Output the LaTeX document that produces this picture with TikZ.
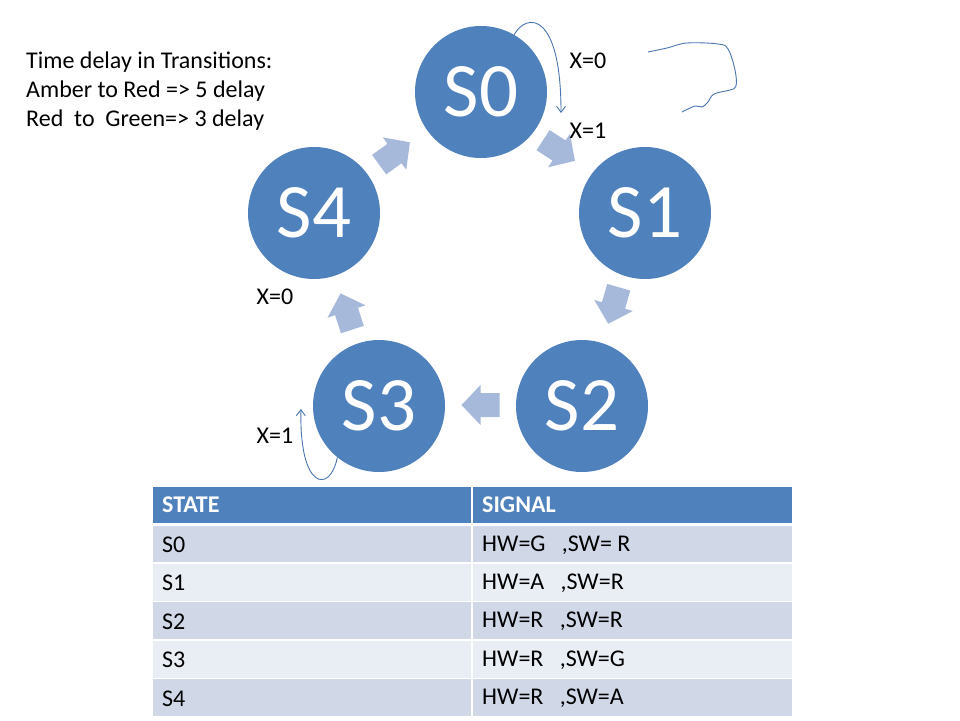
\documentclass[tikz,border=0pt]{standalone}
\usepackage{fontspec}
\setmainfont{Carlito}
\usetikzlibrary{arrows.meta,calc}
\definecolor{nodeblue}{HTML}{4F81BD}
\definecolor{arrowblue}{HTML}{A7B9DA}
\definecolor{rowdark}{HTML}{D0D8E8}
\definecolor{rowlight}{HTML}{E9EDF4}
\definecolor{penblue}{HTML}{4A76B0}
\newcommand\cyclearrow[2]{%
  \fill[blockarrow,shift={(#1)},rotate=#2]
    (-19,-12) -- (0,-12) -- (0,-20) -- (19,0) -- (0,20) -- (0,12) -- (-19,12) -- cycle;}
\begin{document}
\begin{tikzpicture}[x=1pt,y=-1pt,
  state/.style={circle,fill=nodeblue,minimum size=132pt,inner sep=0pt,text=white,
    font=\fontsize{77}{92}\selectfont},
  lbl/.style={font=\fontsize{24}{29}\selectfont,inner sep=0pt},
  cell/.style={font=\fontsize{24}{29}\selectfont,anchor=west,inner sep=0pt},
  hcell/.style={anchor=west,inner sep=0pt,font=\fontsize{24}{29}\selectfont\bfseries,text=white},
  pen/.style={draw=penblue,line width=0.9pt},
  penarrow/.style={pen,-{Straight Barb[length=6pt,width=9pt]}},
  blockarrow/.style={fill=arrowblue}]
\useasboundingbox[fill=white] (0,0) rectangle (960,720);

% states
\node[state] (s0) at (481,92) {S0};
\node[state] (s1) at (645,213) {S1};
\node[state] (s2) at (582,406) {S2};
\node[state] (s3) at (379,406) {S3};
\node[state] (s4) at (314,213) {S4};

% cycle arrows
\coordinate (a01) at ($(s0)!0.5!(s1)+(-4,-2)$);
\coordinate (a12) at ($(s1)!0.5!(s2)+(0,-4)$);
\coordinate (a23) at ($(s2)!0.5!(s3)+(0,-1)$);
\coordinate (a34) at ($(s3)!0.5!(s4)+(0,2)$);
\coordinate (a40) at ($(s4)!0.5!(s0)+(-3,1)$);
\cyclearrow{a01}{-33}
\cyclearrow{a12}{-106}
\cyclearrow{a23}{180}
\cyclearrow{a34}{108}
\cyclearrow{a40}{36}

% self loops
\coordinate (l0end) at (561,113);
\draw[penarrow] (s0.60) .. controls (527,12) and (561,12) .. (l0end);
\coordinate (l3end) at (301,409);
\draw[penarrow] (s3.-129) .. controls (330,494) and (299,490) .. (l3end);

% scribble
\draw[pen] plot[smooth,tension=0.6] coordinates {(648,52) (667,48) (687,43) (718,44) (728,49)
  (735,70) (736,86) (730,90) (714,94) (708,102) (702,107) (695,106) (682,112)};

% labels
\node[lbl] (x00) at (588,61) {X=0};
\node[lbl] (x01) at (588,131) {X=1};
\node[lbl] (x40) at (275,297) {X=0};
\node[lbl] (x31) at (275,436) {X=1};

\node[lbl,anchor=west,align=left] (title) at (26,91)
  {Time delay in Transitions:\\Amber to Red => 5 delay\\Red\ \ to\ \ Green=> 3 delay};

% table
\fill[nodeblue] (153,487) rectangle (792,523);
\fill[rowdark] (153,526) rectangle (792,562);
\fill[rowlight] (153,563.5) rectangle (792,600.5);
\fill[rowdark] (153,602) rectangle (792,639);
\fill[rowlight] (153,640.5) rectangle (792,677.5);
\fill[rowdark] (153,679) rectangle (792,716);
\fill[white] (471,487) rectangle (473,716);

\node[hcell] (hstate) at (162,505) {STATE};
\node[hcell] (hsignal) at (482,505) {SIGNAL};
\node[cell] (t0) at (162,545) {S0};
\node[cell] (g0) at (482,545) {HW=G\ \ \ ,SW= R};
\node[cell] (t1) at (162,583) {S1};
\node[cell] (g1) at (482,583) {HW=A\ \ \ ,SW=R};
\node[cell] (t2) at (162,621.5) {S2};
\node[cell] (g2) at (482,621.5) {HW=R\ \ \ ,SW=R};
\node[cell] (t3) at (162,660) {S3};
\node[cell] (g3) at (482,660) {HW=R\ \ \ ,SW=G};
\node[cell] (t4) at (162,698.5) {S4};
\node[cell] (g4) at (482,698.5) {HW=R\ \ \ ,SW=A};
\end{tikzpicture}
\end{document}
